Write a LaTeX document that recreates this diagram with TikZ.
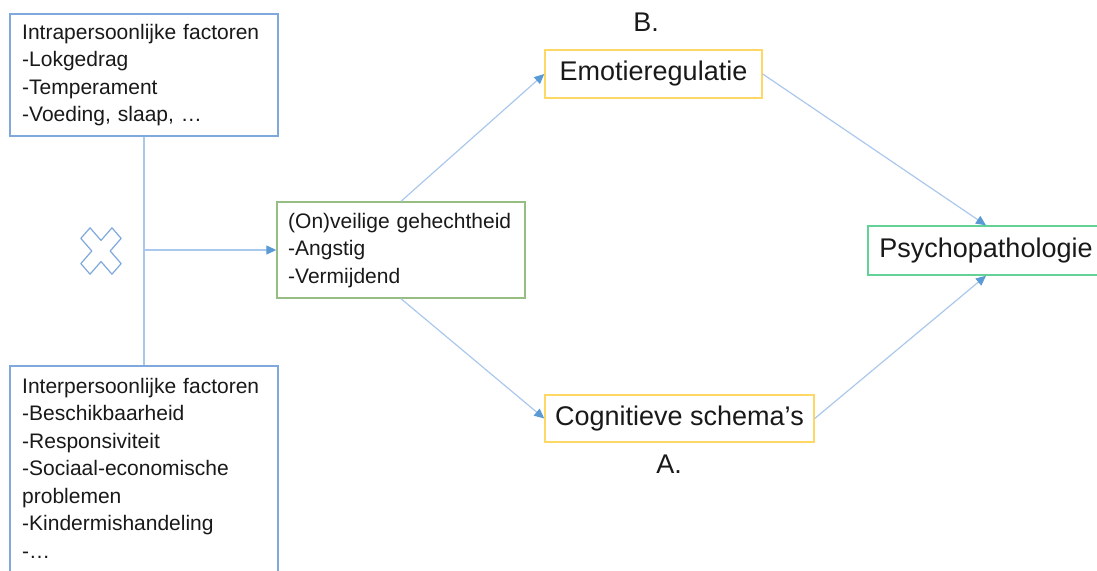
\documentclass[tikz,border=0pt]{standalone}
\usepackage{fontspec}
\setmainfont{Liberation Sans}
\usetikzlibrary{arrows.meta}

\definecolor{boxblue}{RGB}{127,168,220}
\definecolor{linkblue}{RGB}{170,200,236}
\definecolor{tipblue}{RGB}{91,155,213}
\definecolor{attgreen}{RGB}{150,190,130}
\definecolor{medyellow}{RGB}{255,215,100}
\definecolor{outgreen}{RGB}{100,210,150}
\definecolor{ink}{RGB}{25,25,25}

\begin{document}
\begin{tikzpicture}[x=1pt,y=-1pt,
  box/.style={draw, line width=1.4pt, inner sep=0pt, fill=white},
  factorbox/.style={box, draw=boxblue},
  listtext/.style={anchor=base west, inner sep=0pt, align=left, text width=262pt,
    font=\fontsize{21}{27.5}\selectfont, text=ink},
  bigtext/.style={font=\fontsize{27}{32}\selectfont, text=ink},
  link/.style={draw=linkblue, line width=1.2pt},
  arrow/.style={link, -{Triangle[length=10pt,width=9pt,color=tipblue]}},
]
\useasboundingbox (0,0) rectangle (1097,570);
\clip (0,0) rectangle (1097,570);

% factor boxes on the left
\node[factorbox, minimum width=268pt, minimum height=122pt] (intra) at (144,75) {};
\node[listtext] (intratext) at (22,39)
  {Intrapersoonlijke factoren\\-Lokgedrag\\-Temperament\\-Voeding, slaap, …};

\node[factorbox, minimum width=268pt, minimum height=240pt] (inter) at (144,486) {};
\node[listtext] (intertext) at (22,393)
  {Interpersoonlijke factoren\\-Beschikbaarheid\\-Responsiviteit\\-Sociaal-economische\\problemen\\-Kindermishandeling\\-…};

% interaction cross
\draw[boxblue, line width=1.2pt, line join=round, shift={(101,251)}, yscale=1.15, rotate=45]
  (6.5,6.5) -- (6.5,22) -- (-6.5,22) -- (-6.5,6.5) -- (-22,6.5) -- (-22,-6.5) -- (-6.5,-6.5) -- (-6.5,-22)
  -- (6.5,-22) -- (6.5,-6.5) -- (22,-6.5) -- (22,6.5) -- cycle;

% attachment
\node[box, draw=attgreen, minimum width=248pt, minimum height=96pt] (att) at (401,250) {};
\node[listtext] (atttext) at (288,228)
  {(On)veilige gehechtheid\\-Angstig\\-Vermijdend};

% mediators and outcome
\node[box, draw=medyellow, bigtext, minimum width=217pt, minimum height=48pt] (emo) at (653.5,74) {Emotieregulatie};
\node[box, draw=medyellow, bigtext, minimum width=269pt, minimum height=47pt] (cog) at (679.5,418.5) {Cognitieve schema’s};
\node[box, draw=outgreen, bigtext, minimum width=236pt, minimum height=49pt] (psych) at (986,250.5) {Psychopathologie};

\node[bigtext, anchor=base] (lblB) at (646,31) {B.};
\node[bigtext, anchor=base] (lblA) at (669,473) {A.};

% connectors
\draw[link] (intra.south) -- (inter.north);
\coordinate (join) at (144,250);
\draw[arrow] (join) -- (att.west);
\draw[arrow] (att.north) -- (emo.west);
\draw[arrow] (att.south) -- (cog.west);
\draw[arrow] (emo.east) -- (psych.north);
\draw[arrow] (cog.east) -- (psych.south);
\end{tikzpicture}
\end{document}
